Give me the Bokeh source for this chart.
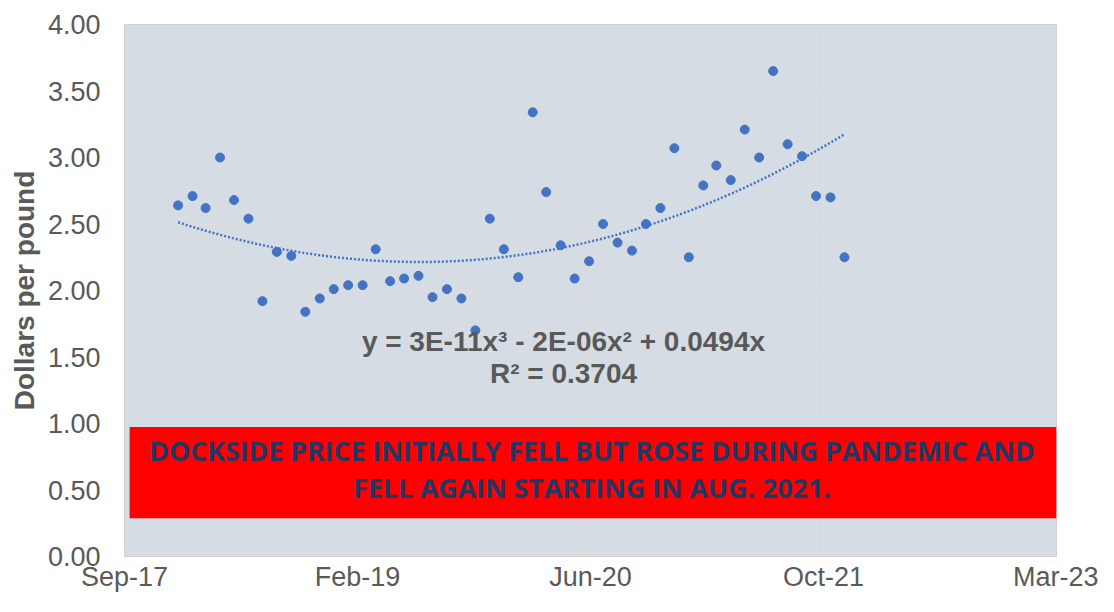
import numpy as np
import pandas as pd
from bokeh.plotting import figure
from bokeh.models import (Range1d, FixedTicker, SingleIntervalTicker, NumeralTickFormatter,
                          DatetimeTickFormatter, Label, BoxAnnotation)
from bokeh.embed import file_html
from bokeh.resources import INLINE

# ---------------- data ----------------
first_month = "2018-01-01"          # monthly observations, Jan 2018 - Dec 2021
n_months = 48
prices = [2.64, 2.71, 2.62, 3.00, 2.68, 2.54, 1.92, 2.29, 2.26, 1.84, 1.94, 2.01,
          2.04, 2.04, 2.31, 2.07, 2.09, 2.11, 1.95, 2.01, 1.94, 1.70, 2.54, 2.31,
          2.10, 3.34, 2.74, 2.34, 2.09, 2.22, 2.50, 2.36, 2.30, 2.50, 2.62, 3.07,
          2.25, 2.79, 2.94, 2.83, 3.21, 3.00, 3.65, 3.10, 3.01, 2.71, 2.70, 2.25]

x_start, x_end = "2017-09-22", "2023-03-15"
tick_dates = ["2017-09-22", "2019-02-04", "2020-06-18", "2021-10-31", "2023-03-15"]
tick_labels = ["Sep-17", "Feb-19", "Jun-20", "Oct-21", "Mar-23"]

y_label = "Dollars per pound"
eq_text = "y = 3E-11x³ - 2E-06x² + 0.0494x"
r2_text = "R² = 0.3704"
note_lines = ["DOCKSIDE PRICE INITIALLY FELL BUT ROSE DURING PANDEMIC AND",
              "FELL AGAIN STARTING IN AUG. 2021."]

# ---------------- helpers ----------------
def ms(d):
    return pd.Timestamp(d).value / 1e6

dates = pd.date_range(first_month, periods=n_months, freq="MS") + pd.Timedelta(days=14)

# polynomial (order 3, zero intercept) trendline on Excel serial dates
serial = np.asarray((dates - pd.Timestamp("1899-12-30")).days, dtype=float)
t = serial / 1e4
A = np.column_stack([t ** 3, t ** 2, t])
coef, *_ = np.linalg.lstsq(A, np.asarray(prices), rcond=None)
s_grid = np.linspace(serial[0], serial[-1], 300)
tg = s_grid / 1e4
trend_y = coef[0] * tg ** 3 + coef[1] * tg ** 2 + coef[2] * tg
trend_x = pd.Timestamp("1899-12-30") + pd.to_timedelta(s_grid, unit="D")

# ---------------- figure ----------------
p = figure(width=1098, height=596, x_axis_type="datetime",
           x_range=Range1d(ms(x_start), ms(x_end)), y_range=Range1d(0, 4),
           output_backend="svg", toolbar_location=None,
           background_fill_color="#D6DCE4", border_fill_color="white",
           min_border_left=124, min_border_right=42, min_border_top=24, min_border_bottom=40)
p.outline_line_color = "#D0D0D0"

tick_ms = [ms(d) for d in tick_dates]
p.xaxis.ticker = FixedTicker(ticks=tick_ms)
fmt = "%b-%y"
p.xaxis.formatter = DatetimeTickFormatter(microseconds=fmt, milliseconds=fmt, seconds=fmt,
                                          minsec=fmt, minutes=fmt, hourmin=fmt, hours=fmt,
                                          days=fmt, months=fmt, years=fmt)
p.xaxis.major_label_overrides = {tm: lab for tm, lab in zip(tick_ms, tick_labels)}
p.yaxis.ticker = SingleIntervalTicker(interval=0.5, num_minor_ticks=0)
p.yaxis.formatter = NumeralTickFormatter(format="0.00")

for ax in (p.xaxis, p.yaxis):
    ax.axis_line_color = None
    ax.major_tick_line_color = None
    ax.minor_tick_line_color = None
    ax.major_tick_out = 0
    ax.major_label_text_font = "Liberation Sans"
    ax.major_label_text_font_size = "27px"
    ax.major_label_text_color = "#595959"
p.xaxis.major_label_standoff = 5
p.yaxis.major_label_standoff = 24
p.yaxis.axis_label = y_label
p.yaxis.axis_label_text_font = "Liberation Sans"
p.yaxis.axis_label_text_font_style = "bold"
p.yaxis.axis_label_text_font_size = "28px"
p.yaxis.axis_label_text_color = "#595959"
p.yaxis.axis_label_standoff = 5

p.xgrid.grid_line_color = "#DEDEDE"
p.ygrid.grid_line_color = "#DEDEDE"

# red note box
p.add_layout(BoxAnnotation(left=ms("2017-10-03"), right=ms(x_end), bottom=0.288, top=0.974,
                           fill_color="#FF0000", fill_alpha=1.0, line_color=None))
for txt, yy in zip(note_lines, [0.799, 0.518]):
    p.add_layout(Label(x=ms("2020-06-21"), y=yy, text=txt, text_align="center",
                       text_baseline="alphabetic", text_font="Open Sans", text_font_style="bold",
                       text_font_size="26.7px", text_color="#1F3864"))

# data + trendline
p.line(trend_x, trend_y, line_color="#4472C4", line_width=2.5, line_dash="2 2",
       line_cap="butt")
p.scatter(dates, prices, size=9, fill_color="#4472C4", line_color="#4472C4")

# trendline equation
for txt, yy in zip([eq_text, r2_text], [1.618, 1.375]):
    p.add_layout(Label(x=ms("2020-04-21"), y=yy, text=txt, text_align="center",
                       text_baseline="alphabetic", text_font="Liberation Sans",
                       text_font_style="bold", text_font_size="28px", text_color="#595959"))

open("out.html", "w").write(file_html(p, INLINE))
